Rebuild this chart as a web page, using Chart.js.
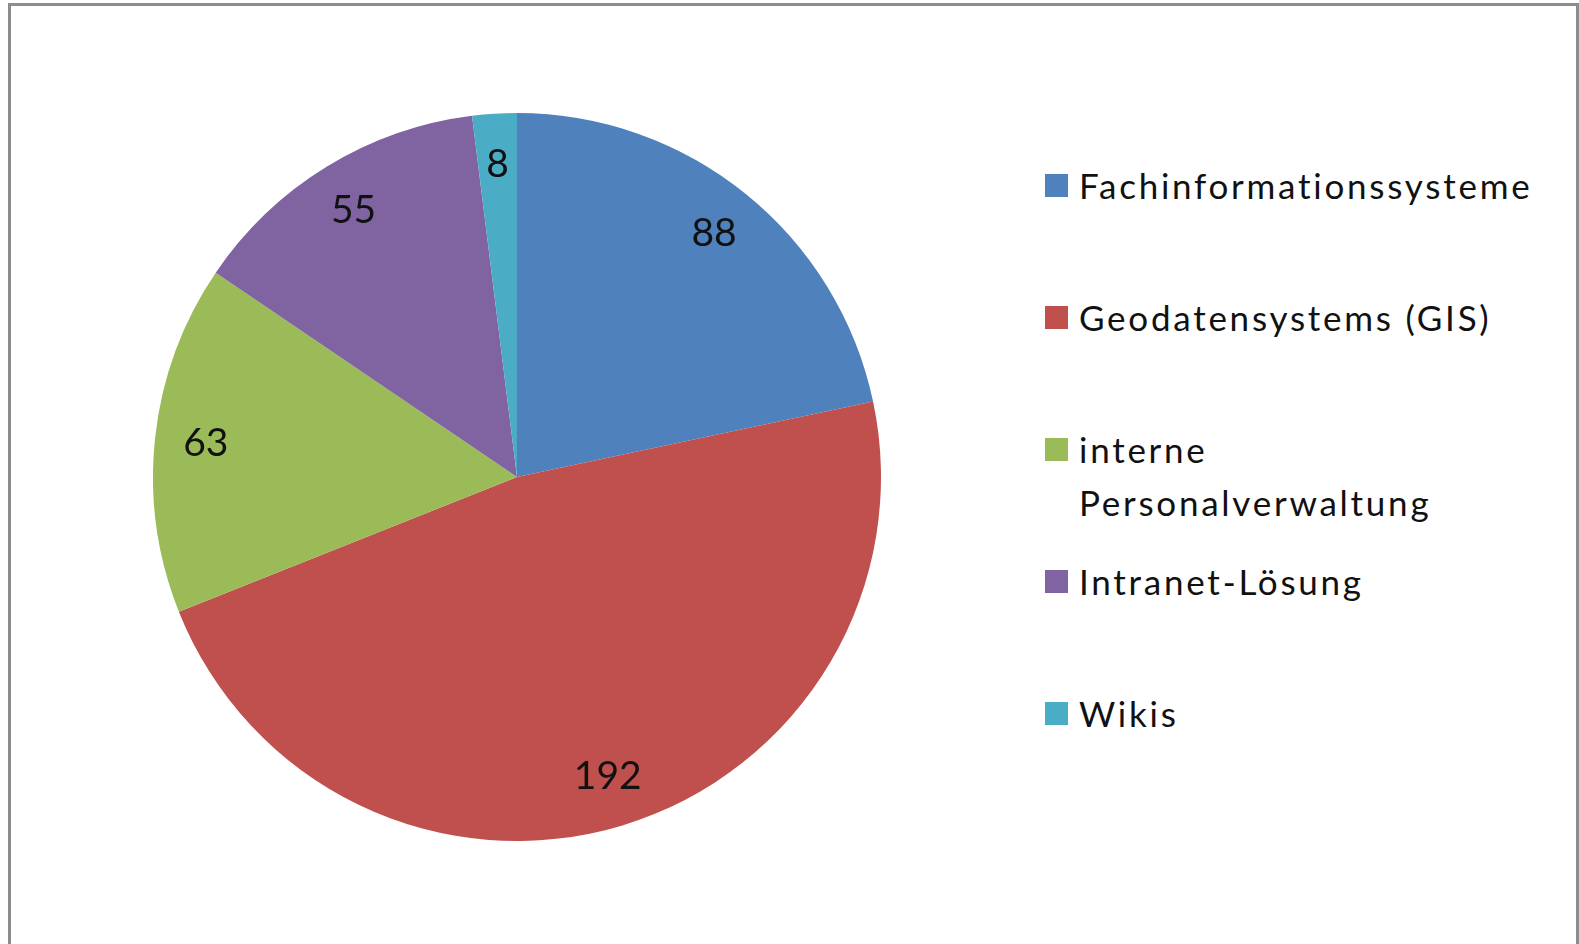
<!DOCTYPE html>
<html>
<head>
<meta charset="utf-8">
<script src="https://cdn.jsdelivr.net/npm/chart.js@4"></script>
<style>
  html, body { margin: 0; padding: 0; background: #fff; }
  body { width: 1579px; height: 944px; position: relative; overflow: hidden; font-family: Lato, "Open Sans", sans-serif; }
  #frame { position: absolute; left: 8px; top: 3px; width: 1565px; height: 960px; border: 3px solid #8c8c8c; }
  #pieBox { position: absolute; left: 153px; top: 113px; width: 728px; height: 728px; }
  #legend { position: absolute; left: 1045px; top: 0; }
  .item { position: absolute; left: 0; white-space: nowrap; }
  .box { position: absolute; left: 0; width: 23px; height: 23px; }
  .txt { position: absolute; left: 34px; font-size: 35px; line-height: 53px; color: #111; }
</style>
</head>
<body>
<div id="frame"></div>
<div id="pieBox"><canvas id="pie_chart"></canvas></div>
<div id="legend"></div>
<script>
// data
var categories = ['Fachinformationssysteme', 'Geodatensystems (GIS)', ['interne', 'Personalverwaltung'], 'Intranet-Lösung', 'Wikis']
var counts = [88, 192, 63, 55, 8]
var colors = ['#4F81BD', '#C0504D', '#9BBB59', '#8064A2', '#4BACC6']

// value labels inside the slices
const sliceLabels = {
    id: 'sliceLabels',
    afterDatasetsDraw(chart) {
        var ctx = chart.ctx
        var meta = chart.getDatasetMeta(0)
        ctx.save()
        ctx.font = '39px Lato'
        ctx.fillStyle = '#111'
        ctx.textAlign = 'center'
        ctx.textBaseline = 'middle'
        meta.data.forEach(function (arc, i) {
            var p = arc.getProps(['x', 'y', 'startAngle', 'endAngle', 'outerRadius'], true)
            var mid = (p.startAngle + p.endAngle) / 2
            var r = p.outerRadius * 0.86
            ctx.fillText(String(chart.data.datasets[0].data[i]), p.x + Math.cos(mid) * r, p.y + Math.sin(mid) * r)
        })
        ctx.restore()
    }
}

var myChart = new Chart(document.getElementById('pie_chart'), {
    type: 'pie',
    data: {
        labels: categories,
        datasets: [{data: counts, backgroundColor: colors, borderWidth: 0, hoverOffset: 0}]
    },
    options: {
        responsive: true,
        maintainAspectRatio: false,
        animation: false,
        events: [],
        plugins: {legend: {display: false}, tooltip: {enabled: false}}
    },
    plugins: [sliceLabels]
})

// legend on the right, built from the same arrays
var legend = document.getElementById('legend')
var rowTop = 185, rowStep = 132
categories.forEach(function (lab, i) {
    var item = document.createElement('div')
    item.className = 'item'
    item.style.top = (rowTop + rowStep * i) + 'px'
    var box = document.createElement('div')
    box.className = 'box'
    box.style.top = '-11.5px'
    box.style.background = colors[i]
    var txt = document.createElement('div')
    txt.className = 'txt'
    txt.style.top = '-26.5px'
    txt.innerHTML = [].concat(lab).join('<br>')
    item.appendChild(box)
    item.appendChild(txt)
    legend.appendChild(item)
})
// stretch letter spacing so the longest name is as wide as in the picture
var first = legend.querySelector('.txt')
var natural = first.getBoundingClientRect().width
var spacing = (454 - natural) / categories[0].length
legend.querySelectorAll('.txt').forEach(function (t) { t.style.letterSpacing = spacing + 'px' })
</script>
</body>
</html>
